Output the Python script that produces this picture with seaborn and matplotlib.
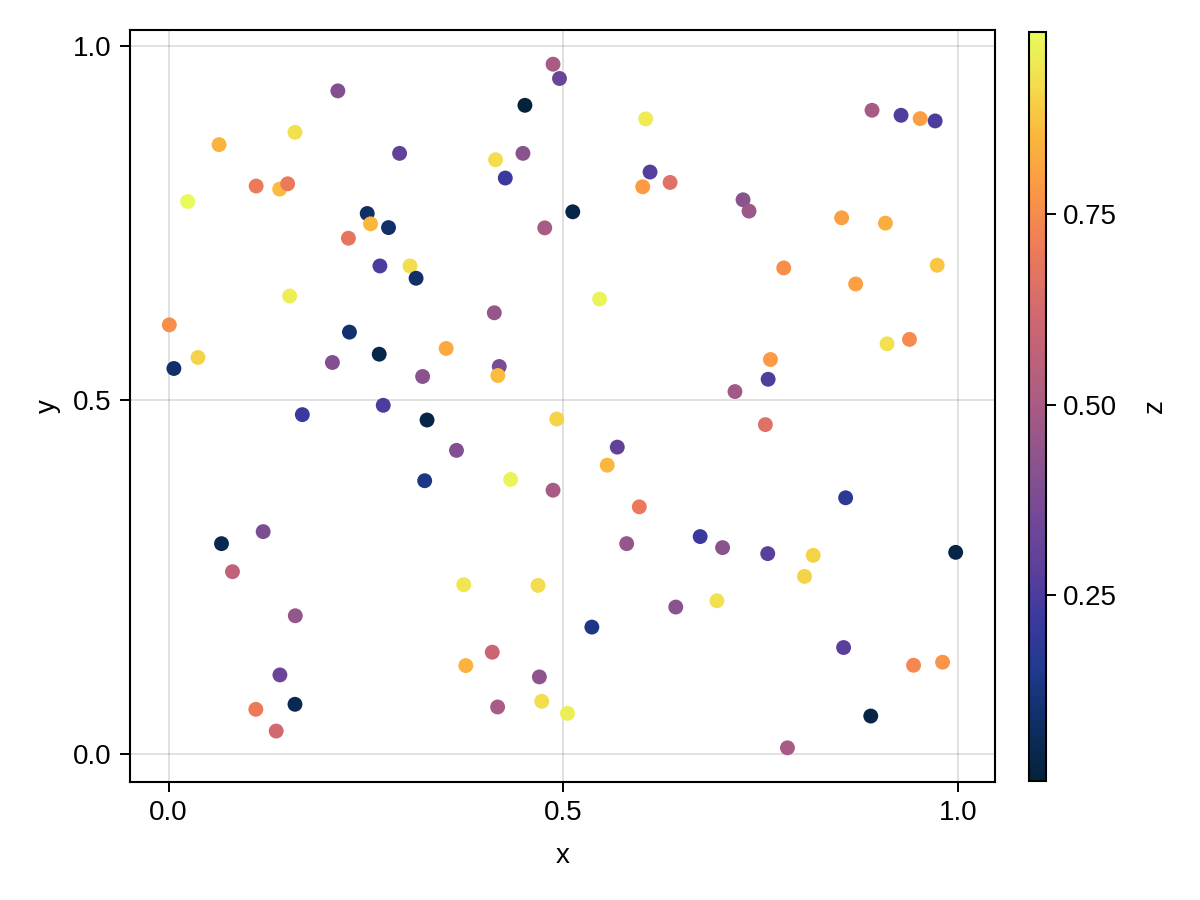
import numpy as np
import pandas as pd
import matplotlib
matplotlib.use("Agg")
import matplotlib.pyplot as plt
from matplotlib.colors import LinearSegmentedColormap, Normalize
from matplotlib.cm import ScalarMappable
import seaborn as sns

x_vals = [0.2144, 0.1601, 0.0639, 0.2926, 0.1109, 0.1407, 0.1508, 0.0241, 0.2516, 0.2558,
          0.2786, 0.2278, 0.2677, 0.3058, 0.3135, 0.1534, 0.0009, 0.2291, 0.0372, 0.0067,
          0.2075, 0.2668, 0.3218, 0.2719, 0.4870, 0.4952, 0.4514, 0.6044, 0.4489, 0.4142,
          0.4265, 0.6099, 0.6353, 0.6006, 0.5120, 0.4765, 0.5460, 0.4126, 0.3516, 0.4189,
          0.4171, 0.8911, 0.9279, 0.9521, 0.9711, 0.7277, 0.7353, 0.8526, 0.9081, 0.7793,
          0.9737, 0.8704, 0.9102, 0.9386, 0.7624, 0.7595, 0.7175, 0.1694, 0.3274, 0.3244,
          0.1198, 0.0670, 0.0809, 0.1605, 0.1410, 0.1601, 0.1105, 0.1363, 0.4917, 0.3647,
          0.5684, 0.5557, 0.4333, 0.4870, 0.5963, 0.5803, 0.6734, 0.7018, 0.3739, 0.4680,
          0.6425, 0.6946, 0.5362, 0.4100, 0.3765, 0.4697, 0.4168, 0.4727, 0.5053, 0.7560,
          0.8577, 0.7590, 0.8166, 0.8056, 0.9971, 0.8551, 0.9437, 0.9805, 0.8895, 0.7840]

y_vals = [0.9372, 0.8786, 0.8612, 0.8489, 0.8027, 0.7984, 0.8059, 0.7809, 0.7639, 0.7493,
          0.7440, 0.7290, 0.6898, 0.6898, 0.6724, 0.6473, 0.6066, 0.5963, 0.5605, 0.5449,
          0.5534, 0.5651, 0.5336, 0.4929, 0.9749, 0.9547, 0.9168, 0.8976, 0.8489, 0.8399,
          0.8140, 0.8225, 0.8078, 0.8017, 0.7663, 0.7436, 0.6430, 0.6236, 0.5732, 0.5477,
          0.5350, 0.9098, 0.9027, 0.8980, 0.8947, 0.7833, 0.7673, 0.7578, 0.7503, 0.6870,
          0.6908, 0.6643, 0.5798, 0.5860, 0.5576, 0.5297, 0.5123, 0.4797, 0.4721, 0.3863,
          0.3144, 0.2974, 0.2578, 0.1955, 0.1119, 0.0704, 0.0633, 0.0326, 0.4735, 0.4292,
          0.4338, 0.4083, 0.3881, 0.3729, 0.3494, 0.2974, 0.3074, 0.2918, 0.2394, 0.2384,
          0.2078, 0.2167, 0.1795, 0.1440, 0.1251, 0.1091, 0.0666, 0.0746, 0.0576, 0.4656,
          0.3622, 0.2833, 0.2809, 0.2511, 0.2851, 0.1506, 0.1256, 0.1299, 0.0538, 0.0089]

z_vals = [0.40, 0.93, 0.84, 0.30, 0.70, 0.86, 0.70, 0.988, 0.08, 0.85,
          0.09, 0.68, 0.25, 0.92, 0.09, 0.96, 0.76, 0.10, 0.90, 0.09,
          0.40, 0.04, 0.42, 0.25, 0.50, 0.33, 0.007, 0.95, 0.42, 0.92,
          0.22, 0.27, 0.66, 0.79, 0.03, 0.50, 0.97, 0.45, 0.82, 0.37,
          0.86, 0.50, 0.26, 0.80, 0.25, 0.42, 0.47, 0.80, 0.83, 0.76,
          0.88, 0.80, 0.93, 0.75, 0.79, 0.26, 0.48, 0.22, 0.03, 0.14,
          0.38, 0.05, 0.57, 0.45, 0.33, 0.05, 0.70, 0.62, 0.90, 0.40,
          0.30, 0.85, 0.97, 0.50, 0.70, 0.45, 0.22, 0.42, 0.94, 0.92,
          0.42, 0.93, 0.14, 0.60, 0.84, 0.43, 0.50, 0.92, 0.96, 0.66,
          0.18, 0.28, 0.90, 0.90, 0.03, 0.28, 0.74, 0.77, 0.03, 0.50]

df = pd.DataFrame({"x": x_vals, "y": y_vals, "z": z_vals})

thermal_anchors = [
    (0.00, "#03233a"), (0.09, "#12306c"), (0.15, "#213a8f"), (0.22, "#3e399f"),
    (0.28, "#5c3f9c"), (0.35, "#724896"), (0.42, "#89538e"), (0.51, "#ab5c83"),
    (0.61, "#cc6673"), (0.71, "#ee7a5a"), (0.80, "#fc9b43"), (0.87, "#fbbb3c"),
    (0.93, "#f3dc4e"), (1.00, "#e8fa5b"),
]
cmap = LinearSegmentedColormap.from_list("thermal_like", thermal_anchors)

vmin, vmax = min(z_vals), max(z_vals)
norm = Normalize(vmin=vmin, vmax=vmax)

sns.set_theme(style="white")
plt.rcParams["font.family"] = ["Liberation Sans", "DejaVu Sans"]
plt.rcParams["text.color"] = "black"
plt.rcParams["axes.labelcolor"] = "black"
plt.rcParams["xtick.color"] = "black"
plt.rcParams["ytick.color"] = "black"

fig = plt.figure(figsize=(12, 9), dpi=100)
ax = fig.add_axes([130 / 1200, 1 - 782 / 900, 865 / 1200, 752 / 900])
cax = fig.add_axes([1029 / 1200, 1 - 781 / 900, 17 / 1200, 749 / 900])

sns.scatterplot(data=df, x="x", y="y", hue="z", palette=cmap, hue_norm=norm,
                s=115, linewidth=0, legend=False, ax=ax, zorder=3)

xr = max(x_vals) - min(x_vals)
yr = max(y_vals) - min(y_vals)
ax.set_xlim(min(x_vals) - 0.05 * xr, max(x_vals) + 0.05 * xr)
ax.set_ylim(min(y_vals) - 0.05 * yr, max(y_vals) + 0.05 * yr)
ax.set_xticks([0.0, 0.5, 1.0])
ax.set_yticks([0.0, 0.5, 1.0])
ax.set_xticklabels(["0.0", "0.5", "1.0"])
ax.set_yticklabels(["0.0", "0.5", "1.0"])
ax.grid(True, color="black", alpha=0.12, linewidth=1.4, zorder=0)
ax.set_axisbelow(True)
for sp in ax.spines.values():
    sp.set_visible(True)
    sp.set_color("black")
    sp.set_linewidth(1.5)
ax.tick_params(axis="both", direction="out", length=7, width=1.4, color="black",
               labelcolor="black", labelsize=20, pad=6, bottom=True, left=True)
ax.set_xlabel("x", fontsize=20, labelpad=12, color="black")
ax.set_ylabel("y", fontsize=20, labelpad=9, color="black")

sm = ScalarMappable(norm=norm, cmap=cmap)
cb = fig.colorbar(sm, cax=cax)
cb.outline.set_linewidth(1.5)
cb.outline.set_edgecolor("black")
cb.set_ticks([0.25, 0.50, 0.75])
cb.set_ticklabels(["0.25", "0.50", "0.75"])
cax.tick_params(direction="out", length=7, width=1.4, labelsize=20, pad=5, right=True,
                color="black", labelcolor="black")
cb.set_label("z", fontsize=20, labelpad=18, color="black")

fig.savefig("out.png", dpi=100)
